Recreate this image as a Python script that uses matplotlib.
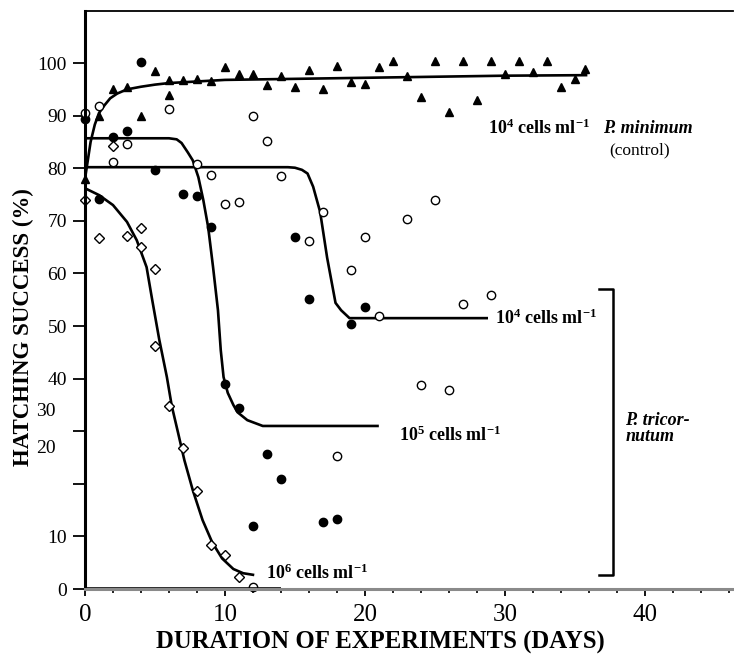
import matplotlib
matplotlib.use('Agg')
import matplotlib.pyplot as plt

plt.rcParams['font.family'] = ['Liberation Serif', 'DejaVu Serif']
plt.rcParams['mathtext.fontset'] = 'custom'
plt.rcParams['mathtext.rm'] = 'Liberation Serif:bold'
plt.rcParams['mathtext.it'] = 'Liberation Serif:bold'
plt.rcParams['mathtext.bf'] = 'Liberation Serif:bold'

# control, P. minimum 10^4 cells/ml (filled triangles)
ctrl_days = [0, 1, 2, 3, 4, 5, 6, 6, 7, 8, 9, 10, 11, 12, 13, 14, 15, 16, 17, 18, 19,
             20, 21, 22, 23, 24, 25, 26, 27, 28, 29, 30, 31, 32, 33, 34, 35, 35.7]
ctrl_vals = [78, 90, 95, 95.5, 90, 98.5, 94, 96.8, 96.7, 97, 96.5, 99.3, 98, 98, 95.8, 97.5,
             95.5, 98.7, 95, 99.4, 96.4, 96, 99.2, 100.3, 97.5, 93.5, 100.3, 90.7, 100.3,
             93, 100.3, 98, 100.3, 98.3, 100.3, 95.4, 97, 98.9]
ctrl_fit_days = [0, 0.2, 0.4, 0.7, 1.0, 1.4, 1.8, 2.3, 3, 4, 5, 6, 8, 10, 15, 20, 25, 30, 35.8]
ctrl_fit_vals = [78, 81.5, 85, 88.3, 90.5, 92, 93.3, 94.2, 95, 95.5, 95.9, 96.2, 96.5, 96.8,
                 97.0, 97.2, 97.4, 97.6, 97.7]

# P. tricornutum 10^4 cells/ml (open circles)
t4_days = [0, 1, 2, 3, 6, 8, 9, 10, 11, 12, 13, 14, 16, 17, 18, 19, 20, 21, 23, 24, 25,
           26, 27, 29, 12]
t4_vals = [90.5, 91.8, 81.2, 84.6, 91.2, 80.8, 78.8, 73.2, 73.5, 90, 85.2, 78.5, 66.1,
           71.7, 25.3, 60.6, 67, 52, 70.3, 38.8, 74, 37.8, 54.2, 55.9, 0.4]
t4_fit_days = [0, 14.5, 15.0, 15.5, 15.9, 16.3, 16.8, 17.3, 17.9, 18.3, 18.9, 28.7]
t4_fit_vals = [80.2, 80.2, 80.1, 79.7, 79.0, 76.5, 71.7, 63, 54.4, 53, 51.5, 51.5]

# P. tricornutum 10^5 cells/ml (filled circles)
t5_days = [0, 1, 2, 3, 4, 5, 7, 8, 9, 10, 11, 12, 13, 14, 15, 16, 17, 18, 19, 20]
t5_vals = [89.4, 74.1, 86, 87, 100.2, 79.7, 75.1, 74.8, 68.9, 38.9, 34.4, 12, 25.7, 20.9,
           66.9, 55.1, 12.7, 13.3, 50.4, 53.6]
t5_fit_days = [0, 6.0, 6.55, 6.9, 7.35, 7.7, 8.1, 8.45, 8.8, 9.15, 9.5, 9.7, 9.9, 10.2,
               10.6, 10.9, 11.6, 12.7, 20.9]
t5_fit_vals = [85.7, 85.7, 85.5, 84.8, 83, 81.5, 78.3, 74, 68.8, 61.2, 53, 45.4, 40.3, 37.3,
               35, 33.6, 32.1, 31.0, 31.0]

# P. tricornutum 10^6 cells/ml (open diamonds)
t6_days = [0, 1, 2, 3, 4, 4, 5, 5, 6, 7, 8, 9, 10, 11]
t6_vals = [74, 66.7, 84.3, 67.2, 68.6, 65, 60.8, 46.2, 34.8, 26.8, 18.6, 8.3, 6.5, 2.3]
t6_fit_days = [0, 1, 2, 3, 3.7, 4.4, 4.8, 5.3, 5.85, 6.2, 6.65, 7.1, 7.7, 8.4, 9.1, 9.8,
               10.6, 11.3, 12.0]
t6_fit_vals = [76.2, 74.9, 73, 69.8, 66.3, 61.2, 55, 47.5, 40.3, 34.8, 29.7, 24.5, 18.8,
               13.1, 8.8, 5.8, 3.8, 3.0, 2.7]

fig = plt.figure(figsize=(7.34, 6.58), dpi=100)
ax = fig.add_axes([85 / 734, 69 / 658, 648 / 734, 578 / 658])

lw = 1.9
for d, v in [(ctrl_fit_days, ctrl_fit_vals), (t4_fit_days, t4_fit_vals),
             (t5_fit_days, t5_fit_vals), (t6_fit_days, t6_fit_vals)]:
    ax.plot(d, v, color='black', lw=lw, solid_joinstyle='round')

ax.plot(ctrl_days, ctrl_vals, '^', color='black', ms=5.5, clip_on=False)
ax.plot(t5_days, t5_vals, 'o', color='black', ms=6, clip_on=False)
ax.plot(t4_days, t4_vals, 'o', mfc='white', mec='black', mew=1, ms=6, clip_on=False)
ax.plot(t6_days, t6_vals, 'D', mfc='white', mec='black', mew=1, ms=4.8, clip_on=False)

ax.set_xlim(0, 46.3)
ax.set_ylim(0, 109.9)

# spines
ax.spines['right'].set_visible(False)
ax.spines['top'].set_linewidth(1.3)
ax.spines['left'].set_linewidth(2.2)
ax.spines['bottom'].set_linewidth(2.2)
ax.spines['bottom'].set_color('#8a8a8a')
ax.plot([0, 14], [0, 0], color='black', lw=2.6, clip_on=False, solid_capstyle='butt')

# ticks
ax.set_xticks([0, 10, 20, 30, 40])
ax.set_xticks(range(0, 47, 2), minor=True)
ax.tick_params(axis='x', which='major', direction='out', length=5, width=1.3,
               labelsize=18, pad=6)
ax.tick_params(axis='x', which='minor', direction='out', length=3, width=1.2)
ax.set_yticks(range(0, 101, 10))
ax.set_yticklabels(['0', '10', '', '', '40', '50', '60', '70', '80', '90', '100'])
ax.tick_params(axis='y', direction='out', length=9, width=1.3, labelsize=14, pad=4)
ytr = ax.get_yaxis_transform()
ax.text(-0.045, 33.7, '30', transform=ytr, ha='right', va='center', fontsize=14)
ax.text(-0.045, 26.8, '20', transform=ytr, ha='right', va='center', fontsize=14)

# axis titles
fig.text(23 / 734, 1 - 327 / 658, 'HATCHING SUCCESS (%)', rotation=90, ha='center',
         va='center', fontsize=16.5, fontweight='bold')
fig.text(380 / 734, 1 - 642 / 658, 'DURATION OF EXPERIMENTS (DAYS)', ha='center',
         va='center', fontsize=17.8, fontweight='bold')

# curve labels
lab = dict(fontsize=13, fontweight='bold', va='center', ha='left')
ax.text(28.8, 87.6, '10$^4$ cells ml$^{-1}$', **lab)
ax.text(37.0, 87.6, 'P. minimum', style='italic', **lab)
ax.text(39.6, 83.4, '(control)', fontsize=12.5, va='center', ha='center')
ax.text(29.3, 51.5, '10$^4$ cells ml$^{-1}$', **lab)
ax.text(22.4, 29.3, '10$^5$ cells ml$^{-1}$', **lab)
ax.text(12.9, 3.0, '10$^6$ cells ml$^{-1}$', **lab)

# bracket for P. tricornutum
bx = [36.7, 37.7, 37.7, 36.7]
by = [57.0, 57.0, 2.7, 2.7]
ax.plot(bx, by, color='black', lw=1.8, clip_on=False)
ax.text(38.6, 30.5, 'P. tricor-\nnutum', style='italic', fontweight='bold', fontsize=13,
        ha='left', va='center', linespacing=0.9)

fig.savefig('out.png', dpi=100)
